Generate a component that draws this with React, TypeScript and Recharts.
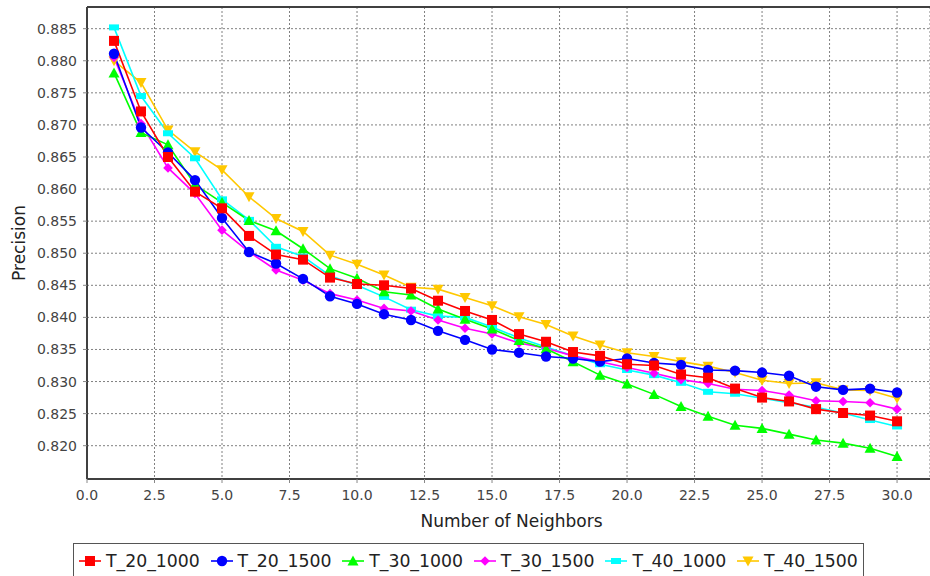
import React from "react";
import { LineChart, Line, XAxis, YAxis, CartesianGrid, ReferenceLine } from "recharts";

const neighbors = [1, 2, 3, 4, 5, 6, 7, 8, 9, 10, 11, 12, 13, 14, 15, 16, 17, 18, 19, 20, 21, 22, 23, 24, 25, 26, 27, 28, 29, 30];

const t20_1000 = [0.8831, 0.8721, 0.865, 0.8596, 0.857, 0.8527, 0.8498, 0.849, 0.8462, 0.8452, 0.845, 0.8445, 0.8426, 0.841, 0.8396, 0.8374, 0.8362, 0.8346, 0.834, 0.8327, 0.8325, 0.8311, 0.8306, 0.8289, 0.8275, 0.8269, 0.8257, 0.8251, 0.8247, 0.8238];
const t20_1500 = [0.8811, 0.8696, 0.8657, 0.8614, 0.8555, 0.8502, 0.8484, 0.846, 0.8433, 0.8421, 0.8405, 0.8396, 0.8379, 0.8365, 0.835, 0.8345, 0.8339, 0.8336, 0.8331, 0.8336, 0.8329, 0.8326, 0.8318, 0.8317, 0.8314, 0.8309, 0.8292, 0.8287, 0.8289, 0.8283];
const t30_1000 = [0.8781, 0.8688, 0.8669, 0.8607, 0.8579, 0.8551, 0.8535, 0.8507, 0.8476, 0.8461, 0.844, 0.8435, 0.8413, 0.8397, 0.8382, 0.8364, 0.8351, 0.8331, 0.831, 0.8296, 0.828, 0.8261, 0.8246, 0.8232, 0.8227, 0.8218, 0.8209, 0.8204, 0.8196, 0.8183];
const t30_1500 = [0.8805, 0.8702, 0.8633, 0.8593, 0.8536, 0.8502, 0.8474, 0.8458, 0.8437, 0.8427, 0.8414, 0.841, 0.8396, 0.8383, 0.8374, 0.836, 0.8352, 0.834, 0.8331, 0.8322, 0.8313, 0.8303, 0.8297, 0.8288, 0.8286, 0.8279, 0.827, 0.8269, 0.8267, 0.8257];
const t40_1000 = [0.8852, 0.8745, 0.8687, 0.8648, 0.8584, 0.8552, 0.851, 0.8495, 0.8465, 0.845, 0.8432, 0.8412, 0.8402, 0.84, 0.8385, 0.8368, 0.8354, 0.834, 0.8327, 0.8318, 0.831, 0.8298, 0.8284, 0.8281, 0.8274, 0.8267, 0.826, 0.8251, 0.824, 0.823];
const t40_1500 = [0.88, 0.8766, 0.8692, 0.8658, 0.863, 0.8588, 0.8554, 0.8534, 0.8497, 0.8483, 0.8466, 0.8447, 0.8444, 0.8431, 0.8418, 0.8401, 0.8389, 0.8371, 0.8357, 0.8345, 0.8339, 0.8331, 0.8324, 0.8314, 0.8302, 0.8297, 0.8298, 0.8287, 0.8286, 0.8274];

const xTicks = [0, 2.5, 5, 7.5, 10, 12.5, 15, 17.5, 20, 22.5, 25, 27.5, 30];
const yTicks = [0.82, 0.825, 0.83, 0.835, 0.84, 0.845, 0.85, 0.855, 0.86, 0.865, 0.87, 0.875, 0.88, 0.885];

const X_MAX = 31.22;
const Y_MIN = 0.81481;
const Y_MAX = 0.88838;

const FONT = "'DejaVu Sans', sans-serif";

type Shape = "square" | "circle" | "up" | "diamond" | "rect" | "down";

const series: { key: string; values: number[]; color: string; shape: Shape }[] = [
    { key: "T_20_1000", values: t20_1000, color: "#ff0000", shape: "square" },
    { key: "T_20_1500", values: t20_1500, color: "#0000ff", shape: "circle" },
    { key: "T_30_1000", values: t30_1000, color: "#00ff00", shape: "up" },
    { key: "T_30_1500", values: t30_1500, color: "#ff00ff", shape: "diamond" },
    { key: "T_40_1000", values: t40_1000, color: "#00ffff", shape: "rect" },
    { key: "T_40_1500", values: t40_1500, color: "#ffc800", shape: "down" },
];

const data = neighbors.map((k, i) => {
    const row: Record<string, number> = { k };
    series.forEach((s) => {
        row[s.key] = s.values[i];
    });
    return row;
});

function Marker({ shape, cx, cy, color }: { shape: Shape; cx: number; cy: number; color: string }) {
    switch (shape) {
        case "square":
            return <rect x={cx - 5} y={cy - 5} width={10} height={10} fill={color} />;
        case "circle":
            return <circle cx={cx} cy={cy} r={5.2} fill={color} />;
        case "up":
            return <polygon points={`${cx},${cy - 5.5} ${cx + 5.5},${cy + 4.5} ${cx - 5.5},${cy + 4.5}`} fill={color} />;
        case "diamond":
            return <polygon points={`${cx},${cy - 4.8} ${cx + 4.8},${cy} ${cx},${cy + 4.8} ${cx - 4.8},${cy}`} fill={color} />;
        case "rect":
            return <rect x={cx - 5} y={cy - 3} width={10} height={6} fill={color} />;
        case "down":
            return <polygon points={`${cx - 5.5},${cy - 4.5} ${cx + 5.5},${cy - 4.5} ${cx},${cy + 5.5}`} fill={color} />;
    }
    return null;
}

// JFreeChart draws series 0 last, and all shapes after all lines
const drawOrder = [...series].reverse();

export default function App() {
    return (
        <div style={{ position: "absolute", left: 0, top: 0, width: 930, height: 576, background: "#fff", overflow: "hidden" }}>
            <LineChart width={930} height={576} data={data} margin={{ top: 7, right: 0, left: 0, bottom: 37 }}>
                <CartesianGrid stroke="#808080" strokeDasharray="2 2" />
                <XAxis
                    type="number"
                    dataKey="k"
                    domain={[0, X_MAX]}
                    ticks={xTicks}
                    allowDataOverflow
                    height={60}
                    tickSize={4}
                    tickMargin={7}
                    tickFormatter={(v: number) => v.toFixed(1)}
                    tick={{ fill: "#444", fontSize: 14, fontFamily: FONT }}
                    tickLine={{ stroke: "#888" }}
                    axisLine={{ stroke: "#404040", strokeWidth: 2 }}
                    label={(props: any) => {
                        const vb = props.viewBox;
                        return (
                            <text x={vb.x + vb.width / 2 + 3} y={526.5} textAnchor="middle" fontSize={17} fontFamily={FONT} fill="#222">
                                Number of Neighbors
                            </text>
                        );
                    }}
                />
                <YAxis
                    type="number"
                    domain={[Y_MIN, Y_MAX]}
                    ticks={yTicks}
                    allowDataOverflow
                    width={87}
                    tickSize={4}
                    tickMargin={6}
                    tickFormatter={(v: number) => v.toFixed(3)}
                    tick={{ fill: "#444", fontSize: 14, fontFamily: FONT }}
                    tickLine={{ stroke: "#888" }}
                    axisLine={{ stroke: "#404040", strokeWidth: 2 }}
                    label={() => (
                        <text x={25} y={243} transform="rotate(-90, 25, 243)" textAnchor="middle" fontSize={17} fontFamily={FONT} fill="#222">
                            Precision
                        </text>
                    )}
                />
                <ReferenceLine y={Y_MAX} stroke="#404040" strokeWidth={2} />
                {drawOrder.map((s) => (
                    <Line
                        key={`line-${s.key}`}
                        type="linear"
                        dataKey={s.key}
                        stroke={s.color}
                        strokeWidth={1.6}
                        dot={false}
                        activeDot={false}
                        isAnimationActive={false}
                    />
                ))}
                {drawOrder.map((s) => (
                    <Line
                        key={`dots-${s.key}`}
                        type="linear"
                        dataKey={s.key}
                        stroke="none"
                        activeDot={false}
                        isAnimationActive={false}
                        dot={(p: any) => <Marker key={`${s.key}-${p.index}`} shape={s.shape} cx={p.cx} cy={p.cy} color={s.color} />}
                    />
                ))}
            </LineChart>
            <div
                style={{
                    position: "absolute",
                    left: 73,
                    top: 543,
                    width: 791,
                    height: 40,
                    border: "1.5px solid #555",
                    display: "flex",
                    alignItems: "flex-start",
                    paddingTop: 6,
                    paddingLeft: 5,
                    boxSizing: "border-box",
                    fontFamily: FONT,
                    fontSize: 17.3,
                    color: "#222",
                }}
            >
                {series.map((s) => (
                    <div key={s.key} style={{ display: "flex", alignItems: "center", width: 131.6, height: 22, flexShrink: 0 }}>
                        <svg width={22} height={14} style={{ marginRight: 5 }}>
                            <line x1={0} y1={7} x2={22} y2={7} stroke={s.color} strokeWidth={1.6} />
                            <Marker shape={s.shape} cx={11} cy={7} color={s.color} />
                        </svg>
                        <span style={{ lineHeight: "22px", whiteSpace: "nowrap" }}>{s.key}</span>
                    </div>
                ))}
            </div>
        </div>
    );
}
